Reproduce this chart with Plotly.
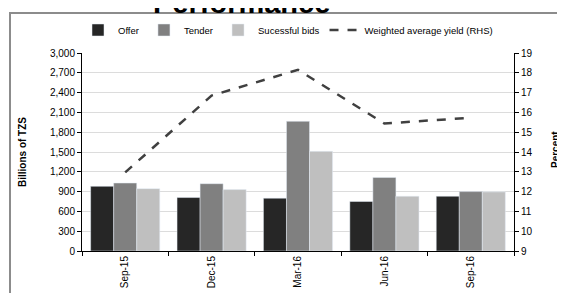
import plotly.graph_objects as go

categories = ["Sep-15", "Dec-15", "Mar-16", "Jun-16", "Sep-16"]
offer = [980, 810, 800, 750, 830]
tender = [1030, 1020, 1965, 1115, 900]
successful = [945, 930, 1510, 830, 895]
yield_rhs = [12.97, 16.85, 18.15, 15.44, 15.73]

FONT = "Arial, Liberation Sans, sans-serif"

fig = go.Figure()
fig.add_trace(go.Bar(x=categories, y=offer, name="Offer", marker_color="#262626"))
fig.add_trace(go.Bar(x=categories, y=tender, name="Tender", marker_color="#808080"))
fig.add_trace(go.Bar(x=categories, y=successful, name="Sucessful bids", marker_color="#bfbfbf"))
fig.add_trace(go.Scatter(x=categories, y=yield_rhs, name="Weighted average yield (RHS)",
                         yaxis="y2", mode="lines",
                         line=dict(color="#404040", width=2.5, dash="dash")))

# page body margin offsets the figure by 8px
OFF = 8
W, H = 565 - OFF, 293 - OFF
# plot area in screen (reference) pixels
SX0, SX1, SY0, SY1 = 82, 514, 53, 251
L, R, T, B = SX0 - OFF, W - (SX1 - OFF), SY0 - OFF, H - (SY1 - OFF)
pw, ph = SX1 - SX0, SY1 - SY0

def px(x):
    return (x - SX0) / pw

def py(y):
    return (SY1 - y) / ph

fig.update_layout(
    width=W, height=H,
    margin=dict(l=L, r=R, t=T, b=B, pad=0, autoexpand=False),
    paper_bgcolor="white", plot_bgcolor="white",
    font=dict(family=FONT, size=10, color="#000000"),
    barmode="group", bargap=0.2, bargroupgap=0,
    showlegend=True,
    legend=dict(orientation="h", xref="container", yref="container",
                x=(288 - OFF) / W, xanchor="center", y=1 - (30 - OFF) / H, yanchor="middle",
                font=dict(size=9.5), bgcolor="rgba(0,0,0,0)", traceorder="normal",
                itemwidth=30, tracegroupgap=0),
    xaxis=dict(type="category", showline=True, linecolor="#000000", linewidth=1,
               ticks="outside", tickson="boundaries", ticklen=4, tickcolor="#000000",
               tickangle=-90, showgrid=False, tickfont=dict(size=10)),
    yaxis=dict(range=[0, 3000], dtick=300, tickformat=",", showline=True,
               linecolor="#000000", linewidth=1, ticks="outside", ticklen=4,
               tickcolor="#000000", showgrid=True, gridcolor="#dcdcdc", gridwidth=1,
               zeroline=False, tickfont=dict(size=10)),
    yaxis2=dict(range=[9, 19], dtick=1, overlaying="y", side="right", showline=True,
                linecolor="#000000", linewidth=1, ticks="outside", ticklen=4,
                tickcolor="#000000", showgrid=False, zeroline=False,
                tickfont=dict(size=10)),
    shapes=[dict(type="rect", xref="paper", yref="paper",
                 x0=px(10), x1=px(600), y0=py(320), y1=py(13),
                 line=dict(color="#8c8c8c", width=2), fillcolor="rgba(0,0,0,0)",
                 layer="below")],
    annotations=[
        dict(text="<b>Performance</b>", xref="paper", yref="paper", x=px(241), y=py(21),
             xanchor="center", yanchor="bottom", showarrow=False,
             font=dict(size=29, family=FONT)),
        dict(text="<b>Billions of TZS</b>", xref="paper", yref="paper", x=px(22), y=py(152),
             xanchor="center", yanchor="middle", textangle=-90, showarrow=False,
             font=dict(size=10, family=FONT)),
        dict(text="<b>Percent</b>", xref="paper", yref="paper", x=px(555), y=py(150),
             xanchor="center", yanchor="middle", textangle=-90, showarrow=False,
             font=dict(size=10, family=FONT)),
    ],
)

fig.write_html("out.html")
